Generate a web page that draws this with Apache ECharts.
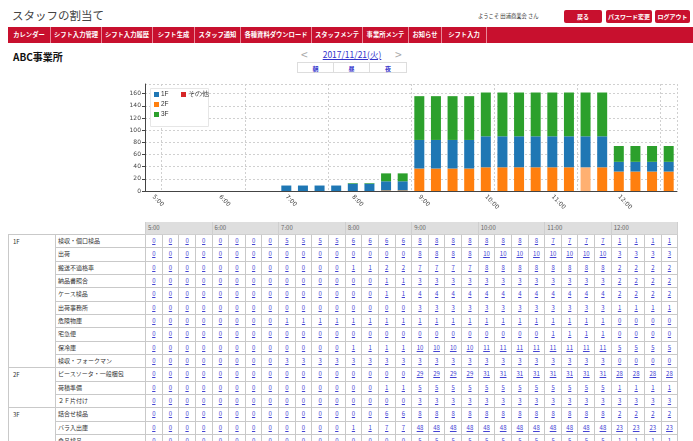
<!DOCTYPE html>
<html><head><meta charset="utf-8">
<script src="https://cdn.jsdelivr.net/npm/echarts@6/dist/echarts.min.js"></script>
<style>
html,body{margin:0;padding:0}
body{width:693px;height:441px;overflow:hidden;background:#fff;position:relative;font-family:"Noto Sans CJK JP","Noto Sans",sans-serif;color:#333}
.abs{position:absolute;white-space:nowrap}
#title{left:12px;top:7px;font-size:11.5px;color:#444;line-height:16px}
#welcome{left:478px;top:12px;font-size:5.3px;line-height:9px;color:#333}
.btn{top:10px;height:13px;line-height:13px;background:#c8102e;color:#fff;border-radius:2px;text-align:center;font-size:6px;font-weight:bold}
#nav{left:8px;top:27px;width:685px;height:16px;background:#c8102e}
.nv{position:absolute;top:0;height:16px;line-height:16px;text-align:center;color:#fff;font-size:6.3px;font-weight:bold;border-right:1px solid #e88a9a;box-sizing:border-box}
#office{left:13px;top:50px;font-size:10px;font-weight:bold;color:#111;line-height:13px}
#prev,#next{top:47px;font-size:12px;color:#aaa;line-height:14px}
#date{left:322px;top:49px;width:60px;text-align:center;font-size:8.5px;line-height:11px;color:#3333cc;text-decoration:underline}
.sb{top:62px;height:11px;line-height:11px;border:1px solid #ddd;box-sizing:border-box;text-align:center;font-size:6px;font-weight:bold;color:#3333cc;background:#fff}
#chart{position:absolute;left:0;top:75px;width:693px;height:147px}
#tbl{position:absolute;left:8px;top:222px;border-collapse:collapse;table-layout:fixed;width:669px;font-size:6px;line-height:8px}
#tbl td{border:1px solid #c9c9c9;padding:0;overflow:hidden;white-space:nowrap}
#tbl tr.hd{height:12.5px}
#tbl tr.hd td.blank{border:none}
#tbl tr.hd td.hr{background:#dedede;color:#666;padding-left:2px;border:1px solid #cfcfcf;border-top:none}
#tbl tr.bd{height:13.33px}
#tbl td.fl{vertical-align:top;padding:3px 0 0 4px;color:#333}
#tbl td.tk{padding-left:2px;color:#333}
#tbl td.v{text-align:center}
#tbl td.v a{color:#4444d4;text-decoration:underline}
</style></head>
<body>
<div id="title" class="abs">スタッフの割当て</div>
<div id="welcome" class="abs">ようこそ 田浦商業会 さん</div>
<div class="abs btn" style="left:564px;width:38px">戻る</div>
<div class="abs btn" style="left:606px;width:46px">パスワード変更</div>
<div class="abs btn" style="left:655px;width:35px">ログアウト</div>
<div id="nav" class="abs"></div>
<div id="office" class="abs">ABC事業所</div>
<div id="prev" class="abs" style="left:301px">&lt;</div>
<div id="date" class="abs">2017/11/21(火)</div>
<div id="next" class="abs" style="left:395px">&gt;</div>
<div class="abs sb" style="left:297px;width:37px">朝</div>
<div class="abs sb" style="left:333px;width:37px">昼</div>
<div class="abs sb" style="left:369px;width:38px">夜</div>
<div id="chart"></div>
<table id="tbl"></table>
<script>
// ---- data ----
const navItems = ['カレンダー','シフト入力管理','シフト入力履歴','シフト生成','スタッフ通知','各種資料ダウンロード','スタッフメンテ','事業所メンテ','お知らせ','シフト入力'];
const timeSlots = ['5:00','5:15','5:30','5:45','6:00','6:15','6:30','6:45','7:00','7:15','7:30','7:45',
  '8:00','8:15','8:30','8:45','9:00','9:15','9:30','9:45','10:00','10:15','10:30','10:45',
  '11:00','11:15','11:30','11:45','12:00','12:15','12:30','12:45'];
const hourLabels = ['5:00','6:00','7:00','8:00','9:00','10:00','11:00','12:00'];
const yTicks = [0,20,40,60,80,100,120,140,160];

const seriesNames = ['2F','1F','3F','その他'];
const floor2F = [0,0,0,0,0,0,0,0,0,0,0,0,0,0,1,1,37,37,37,37,39,39,39,39,39,39,39,39,32,32,32,32];
const floor1F = [0,0,0,0,0,0,0,0,9,9,9,9,12,12,15,15,47,47,47,47,51,51,51,51,51,51,51,51,16,16,16,16];
const floor3F = [0,0,0,0,0,0,0,0,0,0,0,0,1,1,13,13,72,72,72,72,72,72,72,72,72,72,72,72,26,26,26,26];
const floorOther = [0,0,0,0,0,0,0,0,0,0,0,0,0,0,0,0,0,0,0,0,0,0,0,0,0,0,0,0,0,0,0,0];

const floors = ['1F','2F','3F'];
const tasks1F = ['検収・個口検品','出荷','搬送不適格車','納品書照合','ケース検品','出荷事務所','危険物庫','宅急便','保冷庫','検収・フォークマン'];
const tasks2F = ['ピースソータ・一般梱包','荷積準備','２Ｆ片付け'];
const tasks3F = ['詰合せ検品','バラ入出庫','食品検品'];

const r1F_1 = [0,0,0,0,0,0,0,0,5,5,5,5,6,6,6,6,8,8,8,8,8,8,8,8,7,7,7,7,1,1,1,1];
const r1F_2 = [0,0,0,0,0,0,0,0,0,0,0,0,0,0,0,0,8,8,8,8,10,10,10,10,10,10,10,10,3,3,3,3];
const r1F_3 = [0,0,0,0,0,0,0,0,0,0,0,0,1,1,2,2,7,7,7,7,8,8,8,8,8,8,8,8,2,2,2,2];
const r1F_4 = [0,0,0,0,0,0,0,0,0,0,0,0,0,0,1,1,3,3,3,3,3,3,3,3,3,3,3,3,2,2,2,2];
const r1F_5 = [0,0,0,0,0,0,0,0,0,0,0,0,0,0,1,1,4,4,4,4,4,4,4,4,4,4,4,4,2,2,2,2];
const r1F_6 = [0,0,0,0,0,0,0,0,0,0,0,0,0,0,0,0,3,3,3,3,3,3,3,3,3,3,3,3,1,1,1,1];
const r1F_7 = [0,0,0,0,0,0,0,0,1,1,1,1,1,1,1,1,1,1,1,1,1,1,1,1,1,1,1,1,0,0,0,0];
const r1F_8 = [0,0,0,0,0,0,0,0,0,0,0,0,0,0,0,0,0,0,0,0,0,0,0,0,1,1,1,1,0,0,0,0];
const r1F_9 = [0,0,0,0,0,0,0,0,0,0,0,0,1,1,1,1,10,10,10,10,11,11,11,11,11,11,11,11,5,5,5,5];
const r1F_10 = [0,0,0,0,0,0,0,0,3,3,3,3,3,3,3,3,3,3,3,3,3,3,3,3,3,3,3,3,0,0,0,0];
const r2F_1 = [0,0,0,0,0,0,0,0,0,0,0,0,0,0,0,0,29,29,29,29,31,31,31,31,31,31,31,31,28,28,28,28];
const r2F_2 = [0,0,0,0,0,0,0,0,0,0,0,0,0,0,1,1,5,5,5,5,5,5,5,5,5,5,5,5,1,1,1,1];
const r2F_3 = [0,0,0,0,0,0,0,0,0,0,0,0,0,0,0,0,3,3,3,3,3,3,3,3,3,3,3,3,3,3,3,3];
const r3F_1 = [0,0,0,0,0,0,0,0,0,0,0,0,0,0,6,6,8,8,8,8,8,8,8,8,8,8,8,8,2,2,2,2];
const r3F_2 = [0,0,0,0,0,0,0,0,0,0,0,0,1,1,7,7,48,48,48,48,48,48,48,48,48,48,48,48,23,23,23,23];
const r3F_3 = [0,0,0,0,0,0,0,0,0,0,0,0,0,0,0,0,5,5,5,5,5,5,5,5,5,5,5,5,1,1,1,1];

// ---- nav ----
const navWidths = [43,51,51,42,46,71,51,46,33,45];
(function(){
  const nav = document.getElementById('nav');
  let x = 0;
  navItems.forEach((t,i)=>{
    const d = document.createElement('div');
    d.className='nv'; d.style.left=x+'px'; d.style.width=navWidths[i]+'px'; d.textContent=t;
    nav.appendChild(d); x += navWidths[i];
  });
})();

// ---- table ----
(function(){
  const groups = [
    [floors[0], tasks1F, [r1F_1,r1F_2,r1F_3,r1F_4,r1F_5,r1F_6,r1F_7,r1F_8,r1F_9,r1F_10]],
    [floors[1], tasks2F, [r2F_1,r2F_2,r2F_3]],
    [floors[2], tasks3F, [r3F_1,r3F_2,r3F_3]]
  ];
  let h = '<colgroup><col style="width:47px"><col style="width:90px">';
  for (let i=0;i<timeSlots.length;i++) h += '<col style="width:16.625px">';
  h += '</colgroup><tr class="hd"><td class="blank"></td><td class="blank"></td>';
  hourLabels.forEach(l=>{ h += '<td class="hr" colspan="4">'+l+'</td>'; });
  h += '</tr>';
  groups.forEach(g=>{
    g[2].forEach((row,ri)=>{
      h += '<tr class="bd">';
      if (ri===0) h += '<td class="fl" rowspan="'+g[2].length+'">'+g[0]+'</td>';
      h += '<td class="tk">'+g[1][ri]+'</td>';
      row.forEach(v=>{ h += '<td class="v"><a>'+v+'</a></td>'; });
      h += '</tr>';
    });
  });
  document.getElementById('tbl').innerHTML = h;
})();

// ---- chart ----
const chart = echarts.init(document.getElementById('chart'), null, {renderer:'canvas'});
const colors = {'1F':'#1f77b4','2F':'#ff7f0e','3F':'#2ca02c','その他':'#d62728'};
const seriesData = {'2F':floor2F,'1F':floor1F,'3F':floor3F,'その他':floorOther};
const hoverIndex = 26;
const series = seriesNames.map(n=>({
  name:n, type:'bar', stack:'total', barWidth:10,
  itemStyle:{color:colors[n]},
  data: seriesData[n].map((v,i)=> (n==='2F' && i===hoverIndex) ? {value:v,itemStyle:{color:'#ffb071'}} : v)
}));
const dash = {color:'#d0d0d0',width:1,type:[2,2]};
chart.setOption({
  animation:false,
  grid:{left:145,right:16,top:9,bottom:31},
  xAxis:{type:'category',data:timeSlots,
    axisLine:{lineStyle:{color:'#444',width:1}},
    axisTick:{interval:0,length:3,lineStyle:{color:'#444'}},
    axisLabel:{interval:3,rotate:-45,fontSize:6,color:'#444',margin:5,fontFamily:'DejaVu Sans'},
    splitLine:{show:true,interval:(i)=>i%5===1,lineStyle:dash}},
  yAxis:{type:'value',min:yTicks[0],max:176,interval:20,
    axisLine:{show:true,lineStyle:{color:'#444',width:1}},
    axisTick:{show:true,length:3,lineStyle:{color:'#444'}},
    axisLabel:{fontSize:6,color:'#444',margin:4,showMaxLabel:false,fontFamily:'DejaVu Sans'},
    splitLine:{show:true,lineStyle:dash}},
  graphic:[{type:'rect',left:150,top:13,shape:{width:58,height:38},z:50,
    style:{fill:'#fff',stroke:'#e6e6e6',lineWidth:1}}],
  legend:[
    {data:['1F','2F','3F'],orient:'vertical',left:154,top:16,itemWidth:5,itemHeight:5,itemGap:3,padding:0,z:60,
      icon:'rect',textStyle:{fontSize:6.5,color:'#333',lineHeight:7,padding:[0,0,0,-3]}},
    {data:['その他'],orient:'vertical',left:181,top:16,itemWidth:5,itemHeight:5,padding:0,z:60,
      icon:'rect',textStyle:{fontSize:6.5,color:'#333',lineHeight:7,padding:[0,0,0,-3]}}
  ],
  series:series
});
</script>
</body></html>
